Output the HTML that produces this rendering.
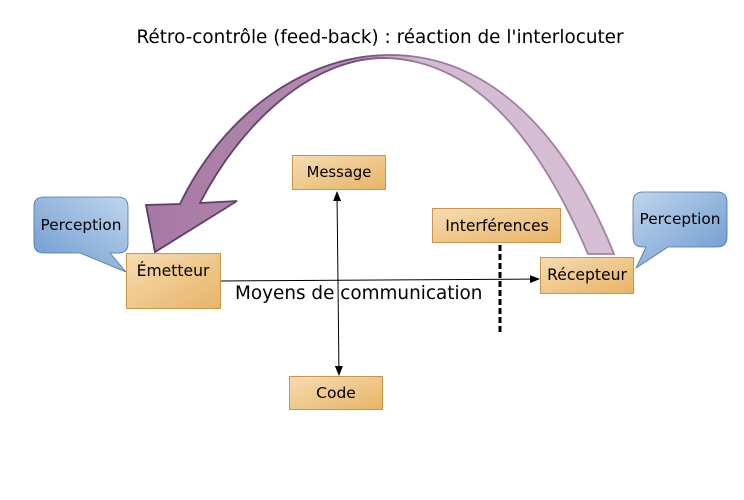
<!DOCTYPE html>
<html><head><meta charset="utf-8"><style>
html,body{margin:0;padding:0;background:#fff;}
svg{display:block;font-family:"DejaVu Sans","Liberation Sans",sans-serif;}
</style></head><body>
<svg width="744" height="500" viewBox="0 0 744 500" xmlns="http://www.w3.org/2000/svg">
<defs>
<linearGradient id="box" x1="0" y1="0" x2="1" y2="1">
<stop offset="0" stop-color="#f6dcb2"/><stop offset="1" stop-color="#e8b466"/></linearGradient>
<linearGradient id="bl" x1="0" y1="1" x2="1" y2="0">
<stop offset="0" stop-color="#6a99cf"/><stop offset="1" stop-color="#c0d5ec"/></linearGradient>
<linearGradient id="br" x1="0" y1="0" x2="1" y2="1">
<stop offset="0" stop-color="#c0d5ec"/><stop offset="1" stop-color="#6a99cf"/></linearGradient>
<linearGradient id="arr" x1="130" y1="0" x2="614" y2="0" gradientUnits="userSpaceOnUse">
<stop offset="0" stop-color="#a676a2"/><stop offset="0.45" stop-color="#b48fb0"/><stop offset="0.6" stop-color="#d3bad1"/><stop offset="1" stop-color="#d6bfd4"/></linearGradient>
<linearGradient id="arrs" x1="130" y1="0" x2="614" y2="0" gradientUnits="userSpaceOnUse">
<stop offset="0" stop-color="#5a3866"/><stop offset="0.45" stop-color="#6a4a75"/><stop offset="0.6" stop-color="#9a7a9e"/><stop offset="1" stop-color="#a085a3"/></linearGradient>
<marker id="ah" markerWidth="10" markerHeight="8" refX="9" refY="4" orient="auto" markerUnits="userSpaceOnUse"><path d="M0,0 L10,4 L0,8 Z" fill="#000"/></marker>
<marker id="ahs" markerWidth="10" markerHeight="8" refX="1" refY="4" orient="auto" markerUnits="userSpaceOnUse"><path d="M10,0 L0,4 L10,8 Z" fill="#000"/></marker>
</defs>
<text x="380" y="43" font-size="18.4" text-anchor="middle" fill="#000">Rétro-contrôle (feed-back) : réaction de l'interlocuter</text>
<path d="M614,254 C560,120 480,55 390,55 C300,55 220,120 180,204 L146,205 L155,252 L237,201 L200,203 C240,125 310,58 385,58 C470,60 535,130 588,254 Z" fill="url(#arr)" stroke="url(#arrs)" stroke-width="1.8" stroke-linejoin="miter"/>
<path d="M34,206 Q34,197 44,197 L118,197 Q128,197 128,207 L128,244 Q128,253 118,253 L110,253 L126,272 L80,253 L44,253 Q34,253 34,244 Z" fill="url(#bl)" stroke="#4a74a8" stroke-width="0.8"/>
<text x="81" y="230" font-size="15.3" text-anchor="middle">Perception</text>
<path d="M643,192 L717,192 Q727,192 727,202 L727,237 Q727,247 717,247 L668,247 L636,268 L646,247 L643,247 Q633,247 633,237 L633,202 Q633,192 643,192 Z" fill="url(#br)" stroke="#4a74a8" stroke-width="0.8"/>
<text x="680" y="224" font-size="15.3" text-anchor="middle">Perception</text>
<line x1="220" y1="281" x2="539" y2="279" stroke="#000" stroke-width="1" marker-end="url(#ah)"/>
<line x1="337" y1="192" x2="339" y2="375" stroke="#000" stroke-width="1" marker-end="url(#ah)" marker-start="url(#ahs)"/>
<line x1="500" y1="245" x2="500" y2="332" stroke="#000" stroke-width="3" stroke-dasharray="6,3"/>
<rect x="126.5" y="253.5" width="94" height="55" fill="url(#box)" stroke="#c9964e"/>
<text x="173" y="276" font-size="15.6" text-anchor="middle">Émetteur</text>
<rect x="292.5" y="155.5" width="93" height="34" fill="url(#box)" stroke="#c9964e"/>
<text x="339" y="177" font-size="14.8" text-anchor="middle">Message</text>
<rect x="432.5" y="208.5" width="128" height="34" fill="url(#box)" stroke="#c9964e"/>
<text x="497" y="231" font-size="15.6" text-anchor="middle">Interférences</text>
<rect x="540.5" y="257.5" width="93" height="36" fill="url(#box)" stroke="#c9964e"/>
<text x="587" y="280" font-size="15.6" text-anchor="middle">Récepteur</text>
<rect x="289.5" y="376.5" width="93" height="33" fill="url(#box)" stroke="#c9964e"/>
<text x="336" y="398" font-size="15.5" text-anchor="middle">Code</text>
<text x="235" y="299" font-size="18.4">Moyens de communication</text>
</svg>
</body></html>
